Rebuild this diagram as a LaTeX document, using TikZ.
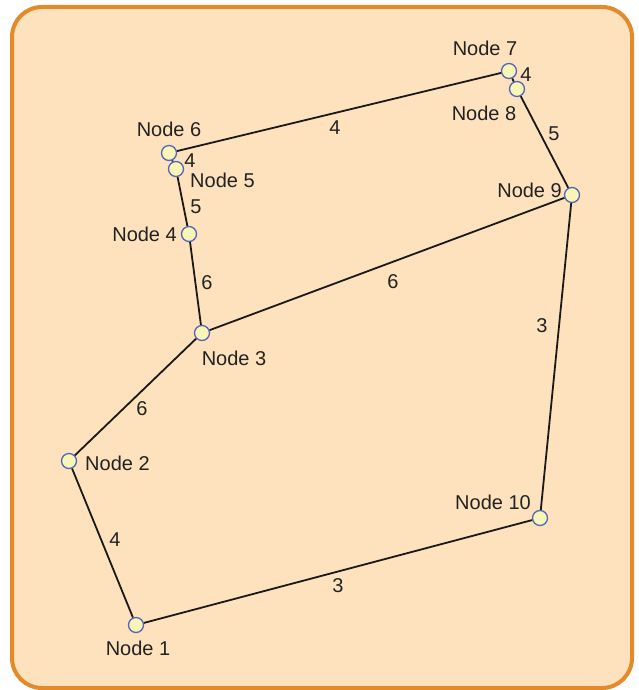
\documentclass[tikz,border=0pt]{standalone}
\usepackage{fontspec}
\setmainfont{Liberation Sans}
\definecolor{framecol}{HTML}{E38A2A}
\definecolor{bgcol}{HTML}{FEE2BD}
\definecolor{vfill}{HTML}{F8F6B6}
\definecolor{vdraw}{HTML}{5566BB}
\definecolor{txt}{HTML}{222222}
\begin{document}
\begin{tikzpicture}[x=1pt,y=-1pt,
  vertex/.style={circle,draw=vdraw,fill=vfill,line width=1.3pt,minimum size=15pt,inner sep=0pt},
  lbl/.style={font=\fontsize{20}{23}\selectfont,text=txt,inner sep=0pt},
  edge/.style={line width=1.8pt,black!90}]
\useasboundingbox (0,0) rectangle (638,690);
\draw[framecol,fill=bgcol,line width=4pt,rounded corners=30pt] (12,7) rectangle (632,688);
% vertices
\node[vertex] (n1) at (136,625) {};
\node[vertex] (n2) at (69,461) {};
\node[vertex] (n3) at (202,333) {};
\node[vertex] (n4) at (189,234) {};
\node[vertex] (n5) at (176,169) {};
\node[vertex] (n6) at (169,153) {};
\node[vertex] (n7) at (509,71) {};
\node[vertex] (n8) at (517,89) {};
\node[vertex] (n9) at (572,195) {};
\node[vertex] (n10) at (540,518) {};
% edges
\draw[edge] (n1) -- (n2);
\draw[edge] (n1) -- (n10);
\draw[edge] (n2) -- (n3);
\draw[edge] (n3) -- (n4);
\draw[edge] (n3) -- (n9);
\draw[edge] (n4) -- (n5);
\draw[edge] (n5) -- (n6);
\draw[edge] (n6) -- (n7);
\draw[edge] (n7) -- (n8);
\draw[edge] (n8) -- (n9);
\draw[edge] (n9) -- (n10);
% vertex labels
\node[lbl] (t1) at (138,648) {Node 1};
\node[lbl,anchor=west] (t2) at (85,463) {Node 2};
\node[lbl] (t3) at (234,358) {Node 3};
\node[lbl,anchor=east] (t4) at (177,234) {Node 4};
\node[lbl,anchor=west] (t5) at (190,180) {Node 5};
\node[lbl] (t6) at (169,129) {Node 6};
\node[lbl] (t7) at (485,48) {Node 7};
\node[lbl] (t8) at (484,113) {Node 8};
\node[lbl,anchor=east] (t9) at (562,190) {Node 9};
\node[lbl,anchor=east] (t10) at (531,502) {Node 10};
% edge weights
\node[lbl] (w12) at (115,540) {4};
\node[lbl] (w110) at (338,586) {3};
\node[lbl] (w23) at (142,409) {6};
\node[lbl] (w34) at (207,283) {6};
\node[lbl] (w39) at (393,282) {6};
\node[lbl] (w45) at (196,207) {5};
\node[lbl] (w56) at (190,161) {4};
\node[lbl] (w67) at (335,128) {4};
\node[lbl] (w78) at (526,75) {4};
\node[lbl] (w89) at (554,134) {5};
\node[lbl] (w910) at (542,326) {3};
\end{tikzpicture}
\end{document}
